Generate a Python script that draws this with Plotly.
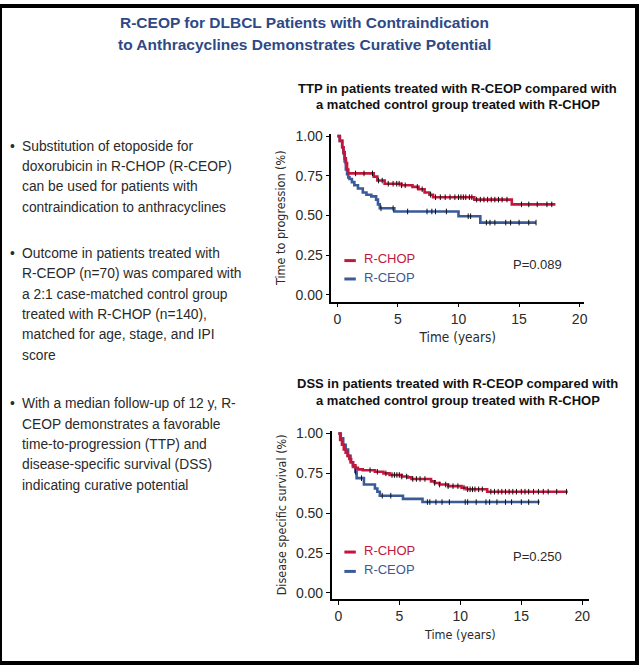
import numpy as np
import plotly.graph_objects as go

W, H = 640, 665

# ---------------- data ----------------
# TTP (time to progression)
ttp_chop_t = [0, 0.2, 0.4, 0.5, 0.6, 0.7, 0.8, 0.9, 3.0, 3.3, 3.9, 5.3, 6.2, 6.7, 7.2, 7.6, 7.9, 11.3, 14.4, 18.0]
ttp_chop_s = [1.0, 0.97, 0.93, 0.90, 0.86, 0.83, 0.79, 0.765, 0.745, 0.72, 0.70, 0.69, 0.68, 0.665, 0.645, 0.63, 0.615, 0.60, 0.57, 0.57]
ttp_ceop_t = [0, 0.2, 0.4, 0.5, 0.6, 0.7, 0.8, 0.9, 1.0, 1.2, 1.4, 1.7, 2.1, 2.4, 2.8, 3.2, 3.35, 3.5, 4.7, 10.0, 11.8, 16.4]
ttp_ceop_s = [1.0, 0.97, 0.93, 0.89, 0.84, 0.79, 0.76, 0.74, 0.73, 0.71, 0.69, 0.67, 0.645, 0.63, 0.62, 0.60, 0.57, 0.545, 0.525, 0.495, 0.455, 0.455]
ttp_chop_cens = [1.5, 2.2, 2.9, 3.4, 3.7, 4.2, 4.6, 4.9, 5.1, 5.3, 5.6, 6.6, 7.0, 7.7, 8.1, 8.5, 8.9, 9.3,
                 9.7, 10.0, 10.2, 10.4, 10.6, 10.9, 11.1, 11.5, 11.8, 12.1, 12.4, 12.7, 13.0, 13.3, 13.6,
                 14.0, 15.2, 15.8, 16.5, 17.3, 17.7]
ttp_ceop_cens = [3.6, 4.6, 5.8, 7.4, 7.8, 8.1, 9.0, 10.8, 11.0, 12.3, 12.6, 13.0, 13.9, 14.3, 15.0, 15.8, 16.4]

# DSS (disease specific survival)
dss_chop_t = [0, 0.15, 0.3, 0.45, 0.6, 0.75, 0.9, 1.05, 1.2, 1.4, 1.6, 2.0, 3.0, 3.7, 4.2, 5.2, 5.7, 6.0,
              7.6, 7.9, 8.3, 9.0, 10.1, 10.5, 12.2, 18.8]
dss_chop_s = [1.0, 0.96, 0.93, 0.90, 0.88, 0.86, 0.84, 0.82, 0.80, 0.785, 0.775, 0.77, 0.76, 0.75, 0.74,
              0.73, 0.725, 0.715, 0.70, 0.69, 0.68, 0.67, 0.66, 0.65, 0.635, 0.635]
dss_ceop_t = [0, 0.2, 0.4, 0.6, 0.8, 1.0, 1.2, 1.4, 1.5, 2.1, 3.0, 3.2, 3.4, 5.3, 6.9, 16.5]
dss_ceop_s = [1.0, 0.97, 0.93, 0.90, 0.86, 0.82, 0.79, 0.76, 0.72, 0.68, 0.655, 0.635, 0.61, 0.59, 0.57, 0.57]
dss_chop_cens = [2.6, 3.2, 3.9, 4.4, 4.6, 4.8, 5.0, 5.2, 5.6, 6.1, 6.4, 6.7, 7.1, 7.9, 8.3, 8.8, 9.0, 9.4,
                 9.8, 10.3, 10.6, 10.8, 11.0, 11.2, 11.5, 11.8, 12.5, 12.8, 13.1, 13.4, 13.7, 14.0, 14.3,
                 14.6, 15.0, 15.3, 15.6, 16.0, 16.4, 16.8, 17.2, 17.9, 18.7]
dss_ceop_cens = [1.4, 1.9, 3.6, 4.3, 7.3, 7.5, 8.0, 8.5, 9.1, 10.4, 10.6, 11.3, 12.1, 12.4, 13.0, 13.7,
                 14.2, 15.0, 15.6, 16.4]

groups = ["R-CHOP", "R-CEOP"]
p_values = ["P=0.089", "P=0.250"]
x_ticks = [0, 5, 10, 15, 20]
y_ticks = [0.0, 0.25, 0.5, 0.75, 1.0]

main_title = ["R-CEOP for DLBCL Patients with Contraindication",
              "to Anthracyclines Demonstrates Curative Potential"]
ttp_title = ["TTP in patients treated with R-CEOP compared with",
             "a matched control group treated with R-CHOP"]
dss_title = ["DSS in patients treated with R-CEOP compared with",
             "a matched control group treated with R-CHOP"]
bullets = [
    ["Substitution of etoposide for", "doxorubicin in R-CHOP (R-CEOP)",
     "can be used for patients with", "contraindication to anthracyclines"],
    ["Outcome in patients treated with", "R-CEOP (n=70) was compared with",
     "a 2:1 case-matched control group", "treated with R-CHOP (n=140),",
     "matched for age, stage, and IPI", "score"],
    ["With a median follow-up of 12 y, R-", "CEOP demonstrates a favorable",
     "time-to-progression (TTP) and", "disease-specific survival (DSS)",
     "indicating curative potential"],
]

# ---------------- styles ----------------
RED = "#C2173D"
BLUE = "#3A5A98"
TITLE_BLUE = "#2E4A86"
TXT = "#2a2a2a"
FONT = "Liberation Sans, Arial, Helvetica, sans-serif"
NARROW = "DejaVu Sans Condensed, Liberation Sans Narrow, sans-serif"
DY = -3  # text baseline correction


def px(x):
    return x / W


def py(y):
    return 1 - y / H


def step_value(ts, ss, t):
    i = np.searchsorted(np.asarray(ts), t, side="right") - 1
    return float(np.asarray(ss)[max(i, 0)])


fig = go.Figure()

panels = [
    ("x", "y", ttp_chop_t, ttp_chop_s, ttp_ceop_t, ttp_ceop_s, ttp_chop_cens, ttp_ceop_cens),
    ("x2", "y2", dss_chop_t, dss_chop_s, dss_ceop_t, dss_ceop_s, dss_chop_cens, dss_ceop_cens),
]
for xa, ya, ct, cs, et, es, ccens, ecens in panels:
    for t, s, col in [(et, es, BLUE), (ct, cs, RED)]:
        fig.add_trace(go.Scatter(x=t, y=s, mode="lines", line=dict(shape="hv", color=col, width=2.6),
                                 xaxis=xa, yaxis=ya, showlegend=False, hoverinfo="skip"))
    for t, s, cens in [(et, es, ecens), (ct, cs, ccens)]:
        fig.add_trace(go.Scatter(x=cens, y=[step_value(t, s, c) for c in cens], mode="markers",
                                 marker=dict(symbol="line-ns", size=4, line=dict(color="#111111", width=1)),
                                 xaxis=xa, yaxis=ya, showlegend=False, hoverinfo="skip"))

axis_common = dict(showline=True, linecolor="black", linewidth=1.6, ticks="outside", ticklen=4,
                   tickwidth=1.4, tickcolor="black", showgrid=False, zeroline=False,
                   tickfont=dict(family=FONT, size=14, color=TXT))

fig.update_layout(
    width=W, height=H, margin=dict(l=0, r=0, t=0, b=0),
    paper_bgcolor="white", plot_bgcolor="white",
    xaxis=dict(domain=[px(333), px(587)], range=[-0.49, 20.38], tickvals=x_ticks, anchor="y",
               title=dict(text="Time (years)", font=dict(family=NARROW, size=13.5, color=TXT), standoff=6),
               **axis_common),
    yaxis=dict(domain=[py(299.3), py(129.3)], range=[-0.0436, 1.015], tickvals=y_ticks, tickformat=".2f",
               anchor="x",
               title=dict(text="Time to progression (%)", font=dict(family=NARROW, size=12.5, color=TXT),
                          standoff=7),
               **axis_common),
    xaxis2=dict(domain=[px(333.3), px(591.7)], range=[-0.54, 20.54], tickvals=x_ticks, anchor="y2",
                title=dict(text="Time (years)", font=dict(family=NARROW, size=12.5, color=TXT), standoff=7),
                **axis_common),
    yaxis2=dict(domain=[py(600), py(430)], range=[-0.037, 1.017], tickvals=y_ticks, tickformat=".2f",
                anchor="x2",
                title=dict(text="Disease specific survival (%)", font=dict(family=NARROW, size=12.5, color=TXT),
                           standoff=7),
                **axis_common),
)

ann = []
# main title
for i, line in enumerate(main_title):
    ann.append(dict(text=line, x=px(306), y=py(20 + DY + 21.5 * i), xanchor="center", yanchor="middle",
                    font=dict(family=FONT, size=15.5, color=TITLE_BLUE, weight="bold")))
# panel titles
for lines, y0 in [(ttp_title, 86), (dss_title, 385)]:
    for i, line in enumerate(lines):
        ann.append(dict(text=line, x=px(460), y=py(y0 + DY + 17 * i), xanchor="center", yanchor="middle",
                        font=dict(family=FONT, size=13, color="#111111", weight="bold")))
# bullets
for lines, y0 in zip(bullets, [145, 253.5, 405.5]):
    ann.append(dict(text="•", x=px(12.5), y=py(y0 + DY), xanchor="center", yanchor="middle",
                    font=dict(family=FONT, size=13.8, color=TXT)))
    for i, line in enumerate(lines):
        ann.append(dict(text=line, x=px(20), y=py(y0 + DY + 20.6 * i), xanchor="left", yanchor="middle",
                        font=dict(family=FONT, size=13.8, color=TXT)))

shapes = []
# in-plot legends and p-values
for ylegs, pv, yp in [((257.7, 276.3), p_values[0], 263.3), ((552.7, 572.3), p_values[1], 559)]:
    for g, col, yl in zip(groups, [RED, BLUE], ylegs):
        shapes.append(dict(type="line", xref="paper", yref="paper", x0=px(346), x1=px(357.5),
                           y0=py(yl), y1=py(yl), line=dict(color=col, width=3)))
        ann.append(dict(text=g, x=px(364), y=py(yl + DY + 1), xanchor="left", yanchor="middle",
                        font=dict(family=FONT, size=13, color=col)))
    ann.append(dict(text=pv, x=px(513), y=py(yp + DY + 1), xanchor="left", yanchor="middle",
                    font=dict(family=FONT, size=13, color=TXT)))

for a in ann:
    a.update(xref="paper", yref="paper", showarrow=False)

# outer frame
shapes.append(dict(type="rect", xref="paper", yref="paper", x0=0, x1=1, y0=0, y1=1,
                   line=dict(color="black", width=4), fillcolor="rgba(0,0,0,0)"))

fig.update_layout(annotations=ann, shapes=shapes)
fig.write_html("out.html", config={"displayModeBar": False},
               post_script="document.body.style.margin='0';document.body.style.overflow='hidden';")
